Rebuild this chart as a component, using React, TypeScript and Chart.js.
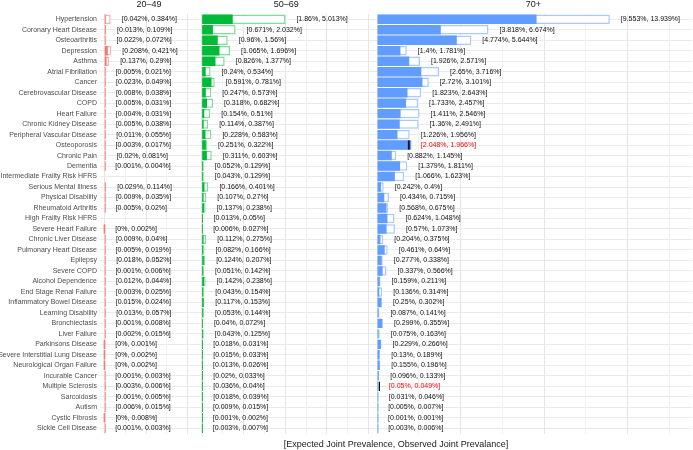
import React, { useEffect, useRef } from "react";
import { Chart, registerables } from "chart.js";

Chart.register(...registerables);

const categories = [
  "Hypertension", "Coronary Heart Disease", "Osteoarthritis", "Depression", "Asthma",
  "Atrial Fibrillation", "Cancer", "Cerebrovascular Disease", "COPD", "Heart Failure",
  "Chronic Kidney Disease", "Peripheral Vascular Disease", "Osteoporosis", "Chronic Pain", "Dementia",
  "Intermediate Frailty Risk HFRS", "Serious Mental Illness", "Physical Disability", "Rheumatoid Arthritis", "High Frailty Risk HFRS",
  "Severe Heart Failure", "Chronic Liver Disease", "Pulmonary Heart Disease", "Epilepsy", "Severe COPD",
  "Alcohol Dependence", "End Stage Renal Failure", "Inflammatory Bowel Disease", "Learning Disability", "Bronchiectasis",
  "Liver Failure", "Parkinsons Disease", "Severe Interstitial Lung Disease", "Neurological Organ Failure", "Incurable Cancer",
  "Multiple Sclerosis", "Sarcoidosis", "Autism", "Cystic Fibrosis", "Sickle Cell Disease",
];

const expected2049 = [
  0.042, 0.013, 0.022, 0.208, 0.137, 0.005, 0.023, 0.008, 0.005, 0.004,
  0.005, 0.011, 0.003, 0.02, 0.001, null, 0.029, 0.009, 0.005, null,
  0, 0.009, 0.005, 0.018, 0.001, 0.012, 0.003, 0.015, 0.013, 0.001,
  0.002, 0, 0, 0, 0.001, 0.003, 0.001, 0.006, 0, 0.001,
];
const observed2049 = [
  0.384, 0.109, 0.072, 0.421, 0.29, 0.021, 0.049, 0.038, 0.031, 0.031,
  0.038, 0.055, 0.017, 0.081, 0.004, null, 0.114, 0.035, 0.02, null,
  0.002, 0.04, 0.019, 0.052, 0.006, 0.044, 0.025, 0.024, 0.057, 0.008,
  0.015, 0.001, 0.002, 0.002, 0.003, 0.006, 0.005, 0.015, 0.008, 0.003,
];
const expected5069 = [
  1.86, 0.671, 0.96, 1.065, 0.826, 0.24, 0.591, 0.247, 0.318, 0.154,
  0.114, 0.228, 0.251, 0.311, 0.052, 0.043, 0.166, 0.107, 0.137, 0.013,
  0.006, 0.112, 0.082, 0.124, 0.051, 0.142, 0.043, 0.117, 0.053, 0.04,
  0.043, 0.018, 0.015, 0.013, 0.02, 0.036, 0.018, 0.009, 0.001, 0.003,
];
const observed5069 = [
  5.013, 2.032, 1.56, 1.696, 1.377, 0.534, 0.781, 0.573, 0.682, 0.51,
  0.387, 0.583, 0.322, 0.603, 0.129, 0.129, 0.401, 0.27, 0.238, 0.05,
  0.027, 0.275, 0.166, 0.207, 0.142, 0.238, 0.154, 0.153, 0.144, 0.072,
  0.125, 0.031, 0.033, 0.026, 0.033, 0.04, 0.039, 0.015, 0.002, 0.007,
];
const expected70 = [
  9.553, 3.818, 4.774, 1.4, 1.926, 2.65, 2.72, 1.823, 1.733, 1.411,
  1.36, 1.226, 2.048, 0.882, 1.379, 1.066, 0.242, 0.434, 0.568, 0.624,
  0.57, 0.204, 0.461, 0.277, 0.337, 0.159, 0.136, 0.25, 0.087, 0.299,
  0.075, 0.229, 0.13, 0.155, 0.096, 0.05, 0.031, 0.005, 0.001, 0.003,
];
const observed70 = [
  13.939, 6.674, 5.644, 1.781, 2.571, 3.716, 3.101, 2.643, 2.457, 2.546,
  2.491, 1.956, 1.966, 1.145, 1.811, 1.623, 0.4, 0.715, 0.675, 1.048,
  1.073, 0.375, 0.64, 0.338, 0.566, 0.211, 0.314, 0.302, 0.141, 0.355,
  0.163, 0.266, 0.189, 0.196, 0.133, 0.049, 0.046, 0.007, 0.001, 0.006,
];

const panelTitles = ["20–49", "50–69", "70+"];
const gridTicks2049 = [0, 1.25, 2.5, 3.75, 5];
const gridTicks5069 = [0, 1.25, 2.5, 3.75, 5, 6.25, 7.5, 8.75, 10];
const gridTicks70 = [0, 2.5, 5, 7.5, 10, 12.5, 15, 17.5];
const xAxisTitle = "[Expected Joint Prevalence, Observed Joint Prevalance]";

const FONT = '"Liberation Sans", Arial, Helvetica, sans-serif';

type Panel = {
  id: string;
  title: string;
  exp: (number | null)[];
  obs: (number | null)[];
  grid: number[];
  major: number;
  min: number;
  max: number;
  solid: string;
  light: string;
};

const panels: Panel[] = [
  { id: "x1", title: panelTitles[0], exp: expected2049, obs: observed2049, grid: gridTicks2049, major: 2.5, min: -0.257, max: 5.61, solid: "#F8766D", light: "#FBB5B0" },
  { id: "x2", title: panelTitles[1], exp: expected5069, obs: observed5069, grid: gridTicks5069, major: 2.5, min: -0.222, max: 10.35, solid: "#00BA38", light: "#7FDC9B" },
  { id: "x3", title: panelTitles[2], exp: expected70, obs: observed70, grid: gridTicks70, major: 5, min: -0.15, max: 18.86, solid: "#619CFF", light: "#A9C9FF" },
];

const textPlugin = {
  id: "panelText",
  afterDatasetsDraw(chart: any) {
    const ctx = chart.ctx;
    const yScale = chart.scales.y;
    ctx.save();
    ctx.font = `7px ${FONT}`;
    ctx.textBaseline = "middle";
    ctx.textAlign = "left";
    panels.forEach((p) => {
      const xs = chart.scales[p.id];
      p.obs.forEach((o, j) => {
        const e = p.exp[j];
        if (o == null || e == null) return;
        ctx.fillStyle = o < e ? "#FF0000" : "#111111";
        ctx.fillText(`[${e}%, ${o}%]`, xs.getPixelForValue(o) + 11, yScale.getPixelForValue(j));
      });
    });
    ctx.font = `9px ${FONT}`;
    ctx.textAlign = "center";
    ctx.fillStyle = "#1A1A1A";
    panels.forEach((p) => {
      const xs = chart.scales[p.id];
      ctx.fillText(p.title, (xs.left + xs.right) / 2, 4.5);
    });
    const ca = chart.chartArea;
    ctx.fillText(xAxisTitle, (ca.left + ca.right) / 2, 444.5);
    ctx.restore();
  },
};

export default function App() {
  const canvasRef = useRef<HTMLCanvasElement | null>(null);

  useEffect(() => {
    if (!canvasRef.current) return;
    Chart.defaults.font.family = FONT;

    const common = {
      yAxisID: "y",
      grouped: false,
      barPercentage: 1,
      categoryPercentage: 0.9,
      inflateAmount: 0,
    };
    const markerSets = panels.map((p) => ({
      ...common,
      label: `marker-${p.id}`,
      xAxisID: p.id,
      data: p.obs.map((o, j) => {
        const e = p.exp[j];
        return o != null && e != null && o < e ? o : null;
      }),
      backgroundColor: "rgba(0,0,0,0)",
      borderColor: "#111111",
      borderWidth: { top: 0, bottom: 0, left: 0, right: 2 },
      borderSkipped: false,
      minBarLength: 3,
    }));
    const expSets = panels.map((p) => ({
      ...common,
      label: `expected-${p.id}`,
      xAxisID: p.id,
      data: p.exp,
      backgroundColor: p.solid,
      borderWidth: 0,
      minBarLength: 1.3,
    }));
    const obsSets = panels.map((p) => ({
      ...common,
      label: `observed-${p.id}`,
      xAxisID: p.id,
      data: p.obs,
      backgroundColor: "#FFFFFF",
      borderColor: p.light,
      borderWidth: 1.5,
      borderSkipped: false,
      minBarLength: 1.5,
    }));

    const scales: any = {
      y: {
        type: "category",
        position: "left",
        afterFit: (s: any) => {
          s.width = 100;
        },
        ticks: {
          autoSkip: false,
          padding: 3,
          color: "#4D4D4D",
          font: { size: 7, family: FONT },
        },
        grid: { offset: false, color: "#EBEBEB", lineWidth: 1, drawTicks: false },
        border: { display: false },
      },
    };
    panels.forEach((p) => {
      scales[p.id] = {
        type: "linear",
        position: "bottom",
        stack: "panels",
        stackWeight: p.max - p.min,
        min: p.min,
        max: p.max,
        afterBuildTicks: (axis: any) => {
          axis.ticks = p.grid.map((v) => ({ value: v }));
        },
        ticks: { display: false },
        grid: {
          drawTicks: false,
          color: (c: any) =>
            c.tick && Math.abs(c.tick.value / p.major - Math.round(c.tick.value / p.major)) < 1e-6
              ? "#E6E6E6"
              : "#F2F2F2",
          lineWidth: 1,
        },
        border: { display: false },
      };
    });

    const chart = new Chart(canvasRef.current, {
      type: "bar",
      data: {
        labels: categories,
        datasets: [...markerSets, ...expSets, ...obsSets] as any,
      },
      options: {
        indexAxis: "y",
        responsive: false,
        animation: false,
        layout: { padding: { top: 14, bottom: 16.5, left: 0, right: 1 } },
        plugins: { legend: { display: false }, tooltip: { enabled: false }, title: { display: false } },
        scales,
      } as any,
      plugins: [textPlugin],
    });
    return () => chart.destroy();
  }, []);

  return (
    <div style={{ position: "absolute", left: 0, top: 0, width: 693, height: 450, background: "#FFFFFF" }}>
      <canvas ref={canvasRef} width={693} height={450} style={{ display: "block" }} />
    </div>
  );
}
